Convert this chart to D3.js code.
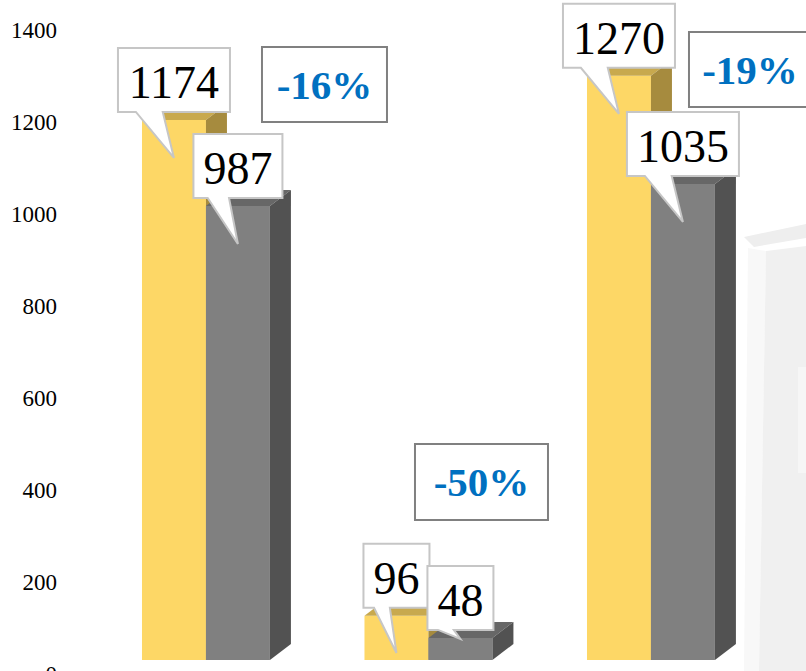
<!DOCTYPE html>
<html>
<head>
<meta charset="utf-8">
<script src="https://cdn.jsdelivr.net/npm/d3@7"></script>
<style>
  html, body { margin: 0; padding: 0; background: #ffffff; }
  svg { display: block; }
</style>
</head>
<body>
<svg id="chart" width="806" height="671"></svg>
<script>
// ---- data ----
const categories = ["Group 1", "Group 2", "Group 3"];
const seriesNames = ["Before", "After"];
const beforeValues = [1174, 96, 1270];
const afterValues = [987, 48, 1035];
const tickValues = [0, 200, 400, 600, 800, 1000, 1200, 1400];

// ---- layout / style (not data) ----
const W = 806, H = 671;
const FONT = "'Liberation Serif', 'Times New Roman', serif";
const depthX = 21, depthY = 16;     // 3D offset of top/side faces
const frontShift = 13;              // front faces drawn in front of the back wall
const colors = {
  Before: { front: "#FDD766", top: "#C8A94E", side: "#A68B3E" },
  After:  { front: "#808080", top: "#676767", side: "#525252" }
};
// manual placement of the change boxes, relative to each group band
const changeBoxLayout = [
  { dx: 120, top: 47, w: 125, h: 75 },
  { dx: 50.5, top: 444, w: 133, h: 76 },
  { dx: 102, top: 32, w: 122, h: 75 }
];

const svg = d3.select("#chart");

// ---- background watermark (faint pillar) ----
const wm = svg.append("g").attr("class", "watermark");
wm.append("path").attr("d", "M748,248 L766,251 L759,671 L744,671 Z").attr("fill", "#f8f8f8");
wm.append("path").attr("d", "M766,251 L806,246 L806,671 L759,671 Z").attr("fill", "#f0f0f0");
wm.append("path").attr("d", "M744,237 L806,224 L806,238 L754,247 Z").attr("fill", "#eeeeee");
wm.append("rect").attr("x", 798).attr("y", 367).attr("width", 8).attr("height", 106).attr("fill", "#f6f6f6");

// ---- scales ----
const y = d3.scaleLinear().domain([0, 1400]).range([673, 29]);
const x0 = d3.scaleBand().domain(categories).range([94.7, 762.2]).paddingInner(0.425).paddingOuter(0.2125);
const x1 = d3.scaleBand().domain(seriesNames).range([0, x0.bandwidth()]);

// ---- y axis labels ----
const axis = d3.axisLeft(y).tickValues(tickValues).tickSize(0).tickPadding(0).tickFormat(d3.format("d"));
const gAxis = svg.append("g").attr("transform", "translate(57,0)").call(axis);
gAxis.select(".domain").remove();
gAxis.selectAll("text")
  .attr("font-family", FONT)
  .attr("font-size", 23)
  .attr("fill", "#000")
  .attr("dy", "0.35em");

// ---- bars ----
const rows = categories.map((c, i) => ({
  category: c,
  values: [
    { series: "Before", value: beforeValues[i] },
    { series: "After", value: afterValues[i] }
  ]
}));

const base = y(0) - frontShift;
const gBars = svg.append("g").attr("class", "bars");
const groups = gBars.selectAll("g.grp").data(rows).join("g")
  .attr("class", "grp")
  .attr("transform", d => `translate(${x0(d.category)},0)`);

const bars = groups.selectAll("g.bar").data(d => d.values).join("g").attr("class", "bar");
bars.each(function(d) {
  const g = d3.select(this);
  const bx = x1(d.series), bw = x1.bandwidth();
  const top = y(d.value) - frontShift;
  const c = colors[d.series];
  g.append("rect").attr("x", bx).attr("y", top).attr("width", bw).attr("height", base - top).attr("fill", c.front);
  g.append("path")
    .attr("d", `M${bx},${top} L${bx + bw},${top} L${bx + bw + depthX},${top - depthY} L${bx + depthX},${top - depthY} Z`)
    .attr("fill", c.top);
  g.append("path")
    .attr("d", `M${bx + bw},${top} L${bx + bw + depthX},${top - depthY} L${bx + bw + depthX},${base - depthY} L${bx + bw},${base} Z`)
    .attr("fill", c.side);
});

// ---- callout labels ----
const gCallouts = svg.append("g").attr("class", "callouts");
rows.forEach(r => {
  r.values.forEach(v => {
    const bx = x0(r.category) + x1(v.series), bw = x1.bandwidth();
    const cx = bx + bw / 2;
    const top = y(v.value) - frontShift;
    const label = String(v.value);
    const boxW = label.length * 23 + 20;
    const boxH = 64;
    const B = top - 8, T = B - boxH, L = cx - boxW / 2, R = cx + boxW / 2;
    const barH = base - top;
    const ty = barH > 30 ? Math.min(top + 38, base - 7) : top + 1;
    const p1 = L + 0.16 * boxW, p2 = L + 0.4 * boxW;
    gCallouts.append("path")
      .attr("d", `M${L},${T} H${R} V${B} H${p2} L${cx},${ty} L${p1},${B} H${L} Z`)
      .attr("fill", "#ffffff")
      .attr("stroke", "#c6c6c6")
      .attr("stroke-width", 2)
      .attr("stroke-linejoin", "miter");
    gCallouts.append("text")
      .attr("x", cx).attr("y", B - 14)
      .attr("text-anchor", "middle")
      .attr("font-family", FONT)
      .attr("font-size", 46)
      .attr("fill", "#000")
      .text(label);
  });
});

// ---- change boxes ----
const gChange = svg.append("g").attr("class", "changes");
categories.forEach((c, i) => {
  const pct = Math.round((afterValues[i] - beforeValues[i]) / beforeValues[i] * 100);
  const lay = changeBoxLayout[i];
  const L = x0(c) + lay.dx;
  gChange.append("rect")
    .attr("x", L).attr("y", lay.top).attr("width", lay.w).attr("height", lay.h)
    .attr("fill", "#ffffff").attr("stroke", "#808080").attr("stroke-width", 2);
  gChange.append("text")
    .attr("x", L + lay.w / 2).attr("y", lay.top + lay.h / 2 + 14)
    .attr("text-anchor", "middle")
    .attr("font-family", FONT)
    .attr("font-weight", "bold")
    .attr("font-size", 41)
    .attr("fill", "#0070C0")
    .text(pct + "%");
});
</script>
</body>
</html>
